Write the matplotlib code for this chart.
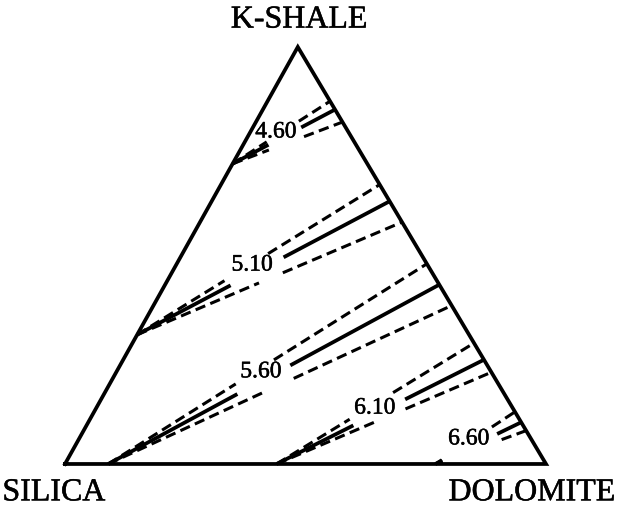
import numpy as np
import matplotlib
matplotlib.use("Agg")
import matplotlib.pyplot as plt
import matplotlib.patheffects as pe

plt.rcParams['font.family'] = ['Liberation Serif', 'DejaVu Serif']

# contour values of the ternary map
contour_values = [4.60, 5.10, 5.60, 6.10, 6.60]

# where each band of lines starts (K-shale and dolomite fractions)
start_kshale = [0.72, 0.31, 0.0, 0.0, 0.0]
start_dolomite = [0.0, 0.0, 0.09, 0.44, 0.77]

# K-shale fraction where each line meets the K-shale / dolomite side
end_upper = [0.87, 0.67, 0.48, 0.29, 0.125]
end_mid = [0.85, 0.63, 0.43, 0.25, 0.10]
end_lower = [0.82, 0.58, 0.38, 0.22, 0.08]

# breaks left for the labels, as fractions along each line
gap_from_upper = [0.35, 0.36, 0.40, 0.37, 0.08]
gap_to_upper = [0.68, 0.54, 0.52, 0.59, 0.71]
gap_from_mid = [0.35, 0.37, 0.39, 0.37, 0.08]
gap_to_mid = [0.67, 0.58, 0.55, 0.62, 0.72]
gap_from_lower = [0.33, 0.46, 0.46, 0.47, 0.08]
gap_to_lower = [0.65, 0.55, 0.54, 0.60, 0.73]

# label positions (K-shale, dolomite fractions)
label_kshale = [0.796, 0.477, 0.221, 0.134, 0.06]
label_dolomite = [0.053, 0.158, 0.30, 0.579, 0.81]

APEX_X = 0.484
HEIGHT = 0.867

# thicken the type a little, like an old photocopy
heavy = [pe.withStroke(linewidth=0.35, foreground='black')]


def to_xy(k, d):
    # silica at (0,0), dolomite at (1,0), k-shale at the apex
    return d + k * APEX_X, k * HEIGHT


def draw_broken(ax, p0, p1, t0, t1, **kw):
    p0 = np.array(p0)
    p1 = np.array(p1)
    for a, b in ((0.0, t0), (t1, 1.0)):
        if b - a <= 0:
            continue
        q0 = p0 + (p1 - p0) * a
        q1 = p0 + (p1 - p0) * b
        ax.plot([q0[0], q1[0]], [q0[1], q1[1]], color='black',
                solid_capstyle='butt', dash_capstyle='butt', **kw)


fig = plt.figure(figsize=(6.31, 5.09), dpi=100)
ax = fig.add_axes([0, 0, 1, 1])
ax.set_xlim(-0.1351, 1.1767)
ax.set_ylim(-0.0936, 0.9647)
ax.axis('off')

# triangle outline
tx = [0, 1, APEX_X, 0]
ty = [0, 0, HEIGHT, 0]
ax.plot(tx, ty, color='black', lw=2.7, solid_joinstyle='miter', zorder=5)

dash = (0, (3.4, 1.8))
for i, val in enumerate(contour_values):
    start = to_xy(start_kshale[i], start_dolomite[i])
    lines = [
        (end_upper[i], gap_from_upper[i], gap_to_upper[i], dash, 2.2),
        (end_mid[i], gap_from_mid[i], gap_to_mid[i], '-', 2.7),
        (end_lower[i], gap_from_lower[i], gap_to_lower[i], dash, 2.2),
    ]
    for k_end, g0, g1, ls, lw in lines:
        end = to_xy(k_end, 1 - k_end)
        draw_broken(ax, start, end, g0, g1, linestyle=ls, lw=lw)

    lx, ly = to_xy(label_kshale[i], label_dolomite[i])
    ax.text(lx, ly, '%.2f' % val, fontsize=17, ha='center', va='center',
            path_effects=heavy)

# corner names
ax.text(APEX_X + 0.003, HEIGHT + 0.056, 'K-SHALE', fontsize=23,
        ha='center', va='center', path_effects=heavy)
ax.text(-0.023, -0.060, 'SILICA', fontsize=23, ha='center', va='center',
        path_effects=heavy)
ax.text(0.971, -0.060, 'DOLOMITE', fontsize=23, ha='center', va='center',
        path_effects=heavy)

fig.savefig('out.png', dpi=100)
